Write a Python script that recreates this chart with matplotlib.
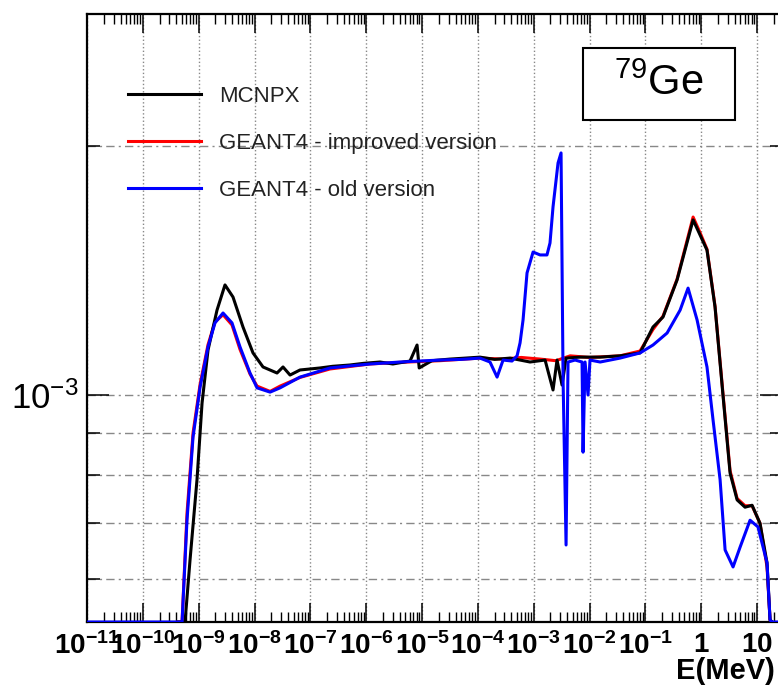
import matplotlib
matplotlib.use("Agg")
import numpy as np
import matplotlib.pyplot as plt
from matplotlib import ticker
from matplotlib.patches import Rectangle

plt.rcParams['font.family'] = ['Liberation Sans', 'DejaVu Sans']
plt.rcParams['mathtext.fontset'] = 'custom'
plt.rcParams['mathtext.rm'] = 'Liberation Sans'
plt.rcParams['mathtext.it'] = 'Liberation Sans:italic'
plt.rcParams['mathtext.bf'] = 'Liberation Sans:bold'

# neutron energy (MeV) and spectrum values (in units of 1e-3)
mcnpx_e = [4.27e-10, 5.7e-10, 7.0e-10, 9.33e-10, 1.15e-9, 1.47e-9, 2.13e-9, 2.96e-9,
           4.12e-9, 6.22e-9, 9.4e-9, 1.42e-8, 2.53e-8, 3.24e-8, 4.33e-8, 6.53e-8,
           1.49e-7, 2.5e-7, 5.14e-7, 9e-7, 1.77e-6, 3e-6, 6.1e-6, 8.15e-6, 8.9e-6,
           1.5e-5, 3.18e-5, 6e-5, 1.09e-4, 2e-4, 3.77e-4, 8.6e-4, 1.6e-3, 2.22e-3,
           2.62e-3, 3.22e-3, 3.8e-3, 6.77e-3, 1.55e-2, 3.52e-2, 8.03e-2, 0.137, 0.207,
           0.37, 0.716, 0.955, 1.27, 1.77, 2.47, 3.29, 4.4, 6.1, 8.15, 11.3, 15.1,
           17.1, 18.6]
mcnpx_v = [0.40, 0.53, 0.632, 0.79, 0.978, 1.133, 1.266, 1.358,
           1.313, 1.208, 1.124, 1.081, 1.063, 1.081, 1.057, 1.072,
           1.078, 1.083, 1.087, 1.092, 1.096, 1.090, 1.099, 1.149, 1.078,
           1.10, 1.105, 1.108, 1.111, 1.104, 1.108, 1.096, 1.102, 1.014,
           1.102, 1.028, 1.108, 1.111, 1.111, 1.115, 1.124, 1.208, 1.242,
           1.377, 1.627, 1.56, 1.496, 1.277, 0.995, 0.805, 0.747, 0.732, 0.736,
           0.70, 0.627, 0.535, 0.49]

improved_e = [4.27e-10, 5.04e-10, 6.18e-10, 7.93e-10, 1.06e-9, 1.47e-9, 1.96e-9, 2.73e-9,
              3.95e-9, 5.5e-9, 8.31e-9, 1.11e-8, 1.9e-8, 2.87e-8, 6.53e-8, 2.25e-7,
              1.17e-6, 4.04e-6, 2.1e-5, 1.09e-4, 2.8e-4, 6.0e-4, 1.3e-3, 2.5e-3,
              4.5e-3, 1.0e-2, 3.52e-2, 8.03e-2, 0.137, 0.207, 0.37, 0.716, 0.955,
              1.27, 1.77, 2.47, 3.29, 4.4, 6.1, 8.15, 11.3, 15.1, 17.1, 18.6]
improved_v = [0.40, 0.53, 0.72, 0.90, 1.03, 1.15, 1.225, 1.25,
              1.215, 1.135, 1.06, 1.025, 1.01, 1.025, 1.05, 1.075,
              1.09, 1.095, 1.10, 1.108, 1.105, 1.11, 1.105, 1.10,
              1.115, 1.11, 1.115, 1.13, 1.20, 1.245, 1.38, 1.64, 1.57,
              1.50, 1.28, 1.0, 0.81, 0.75, 0.735, 0.735, 0.70, 0.62, 0.535, 0.49]

old_e = [1e-11, 1e-10, 4.6e-10, 5.04e-10, 6.18e-10, 7.93e-10, 1.06e-9, 1.47e-9,
         1.96e-9, 2.73e-9, 3.95e-9, 5.5e-9, 8.31e-9, 1.11e-8, 1.9e-8, 2.87e-8,
         6.53e-8, 2.25e-7, 5e-7, 1.17e-6, 2.2e-6, 4.04e-6, 9e-6, 2.1e-5, 5e-5,
         1.09e-4, 1.65e-4, 2.21e-4, 2.83e-4, 4.09e-4, 5.04e-4, 5.7e-4, 6.45e-4,
         7.6e-4, 9.75e-4, 1.3e-3, 1.73e-3, 1.96e-3, 2.22e-3, 2.73e-3, 3.09e-3,
         3.36e-3, 3.8e-3, 4.12e-3, 5.51e-3, 7.35e-3, 7.66e-3, 8.32e-3, 9.4e-3,
         1.02e-2, 1.55e-2, 3.52e-2, 8.03e-2, 0.137, 0.245, 0.419, 0.582, 0.844,
         1.27, 1.63, 2.18, 2.68, 3.72, 4.97, 7.5, 10.4, 15.1, 17.1, 18.6, 20.0, 30.0]
old_v = [0, 0, 0, 0.53, 0.706, 0.89, 1.022, 1.143,
         1.222, 1.256, 1.222, 1.143, 1.063, 1.02, 1.008, 1.02,
         1.051, 1.078, 1.084, 1.09, 1.093, 1.096, 1.099, 1.102, 1.104,
         1.108, 1.096, 1.051, 1.102, 1.099, 1.115, 1.156, 1.232,
         1.404, 1.488, 1.476, 1.476, 1.526, 1.687, 1.906, 1.96,
         1.043, 0.659, 1.096, 1.102, 1.096, 0.853, 1.096, 1.0,
         1.102, 1.096, 1.108, 1.124, 1.149, 1.188, 1.266, 1.346, 1.232,
         1.081, 0.933, 0.79, 0.65, 0.62, 0.655, 0.706, 0.693, 0.627, 0.535, 0.49, 0, 0]

labels = ["MCNPX", "GEANT4 - improved version", "GEANT4 - old version"]
colors = ["black", "#ff0000", "#0000ff"]

ymin, ymax = 5.32e-4, 2.884e-3
xmin, xmax = 1e-11, 28.0

fig = plt.figure(figsize=(7.78, 6.85), dpi=100)
ax = fig.add_axes([87/778, 63/685, 695/778, 608/685])

series = [(improved_e, improved_v, colors[1], labels[1], 2),
          (mcnpx_e, mcnpx_v, colors[0], labels[0], 3),
          (old_e, old_v, colors[2], labels[2], 4)]
handles = {}
for e, v, c, lab, z in series:
    y = np.clip(np.array(v) * 1e-3, ymin, None)
    h, = ax.plot(e, y, color=c, lw=2.2, zorder=z + 2, label=lab)
    handles[lab] = h

ax.set_xscale('log')
ax.set_yscale('log')
ax.set_xlim(xmin, xmax)
ax.set_ylim(ymin, ymax)

ax.xaxis.set_major_locator(ticker.LogLocator(base=10, numticks=20))
ax.xaxis.set_minor_locator(ticker.LogLocator(base=10, subs=np.arange(2, 10), numticks=20))
ax.xaxis.set_minor_formatter(ticker.NullFormatter())

def xfmt(x, pos):
    p = int(round(np.log10(x)))
    if p == 0:
        return r'$\mathbf{1}$'
    if p == 1:
        return r'$\mathbf{10}$'
    return r'$\mathbf{10^{%d}}$' % p

ax.xaxis.set_major_formatter(ticker.FuncFormatter(xfmt))

ax.yaxis.set_major_locator(ticker.FixedLocator([1e-3]))
ax.yaxis.set_minor_locator(ticker.FixedLocator([6e-4, 7e-4, 8e-4, 9e-4, 2e-3]))
ax.yaxis.set_major_formatter(ticker.FixedFormatter([r'$10^{-3}$']))
ax.yaxis.set_minor_formatter(ticker.NullFormatter())

ax.tick_params(axis='x', which='major', direction='in', length=14, width=1.1,
               top=True, labelsize=20, pad=7)
ax.tick_params(axis='x', which='minor', direction='in', length=7, width=1.0, top=True)
ax.tick_params(axis='y', which='major', direction='in', length=16, width=1.1,
               right=True, labelsize=25, pad=6)
ax.tick_params(axis='y', which='minor', direction='in', length=9, width=1.1, right=True)

ax.xaxis.grid(True, which='major', ls=':', color='#888888', lw=1.0)
ax.yaxis.grid(True, which='both', ls=(0, (6, 3, 1.5, 3)), color='#888888', lw=1.0)
ax.set_axisbelow(True)

for s in ax.spines.values():
    s.set_linewidth(1.6)

leg = ax.legend([handles[l] for l in labels], labels, loc='upper left',
                bbox_to_anchor=(0.059, 0.882), frameon=False, fontsize=16,
                handlelength=3.3, handletextpad=0.8, labelspacing=1.18,
                borderpad=0, borderaxespad=0)
for t in leg.get_texts():
    t.set_color('#222222')

ax.add_patch(Rectangle((0.7137, 0.8257), 0.2187, 0.1184, transform=ax.transAxes,
                       fill=True, facecolor='white', edgecolor='black', lw=1.5, zorder=8))
ax.text(0.823, 0.885, r'$^{79}$Ge', transform=ax.transAxes, ha='center', va='center',
        fontsize=30, zorder=9)

fig.text(0.996, 6/685, 'E(MeV)', ha='right', va='baseline', fontsize=21,
         fontweight='bold')

fig.savefig('out.png', dpi=100)
